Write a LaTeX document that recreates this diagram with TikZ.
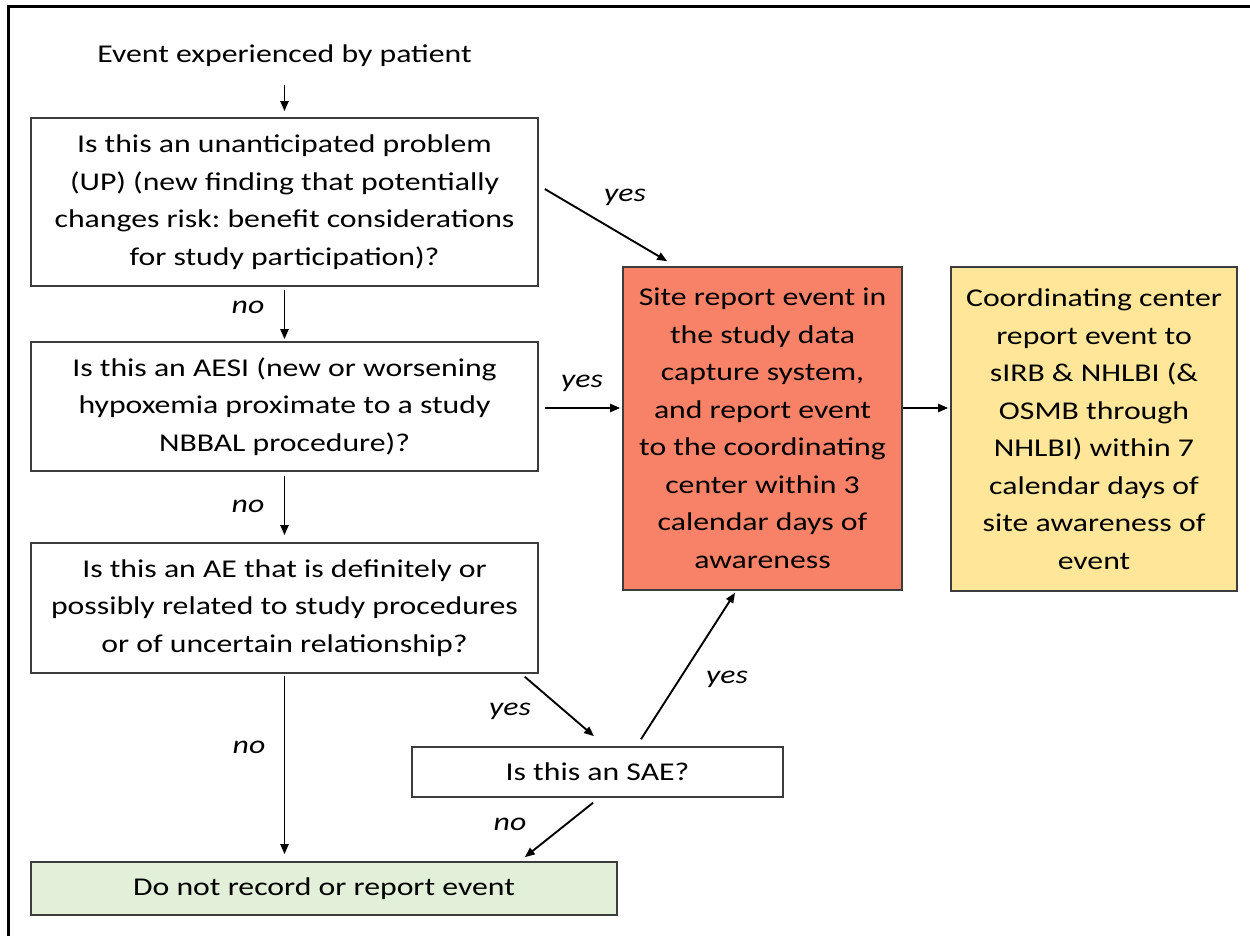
\documentclass[tikz,border=0pt]{standalone}
\usepackage{fontspec}
\setmainfont{Carlito}[FakeStretch=1.24]
\usetikzlibrary{arrows.meta, calc}
\frenchspacing

\definecolor{redbox}{RGB}{247,130,104}
\definecolor{yelbox}{RGB}{255,230,153}
\definecolor{grnbox}{RGB}{226,240,217}
\definecolor{edge}{RGB}{60,60,60}

\begin{document}
\begin{tikzpicture}[x=1pt, y=-1pt,
  txt/.style = {font=\fontsize{25.6}{37.5}\selectfont, align=center},
  q/.style = {txt, draw=edge, line width=1.6pt, inner sep=0pt},
  lbl/.style = {font=\fontsize{25.6}{37.5}\selectfont\itshape, anchor=base},
  arr/.style = {-{Triangle[length=10pt, width=8pt]}, line width=1.9pt}]
\useasboundingbox (0,0) rectangle (1250,936);
\draw[line width=3pt] (8,936) -- (8,7) -- (1250,7);

% questions on the left
\node[txt, anchor=base] (ev) at (284.5,63) {Event experienced by patient};
\node[q, minimum width=507pt, minimum height=168pt] (up) at (284.5,202)
  {Is this an unanticipated problem\\(UP) (new finding that potentially\\changes risk: benefit considerations\\for study participation)?};
\node[q, minimum width=507pt, minimum height=129pt] (aesi) at (284.5,406.5)
  {Is this an AESI (new or worsening\\hypoxemia proximate to a study\\NBBAL procedure)?};
\node[q, minimum width=507pt, minimum height=130pt] (ae) at (284.5,608)
  {Is this an AE that is definitely or\\possibly related to study procedures\\or of uncertain relationship?};
\node[q, minimum width=371pt, minimum height=50pt] (sae) at (597.5,772) {Is this an SAE?};
\node[q, fill=grnbox, minimum width=586pt, minimum height=53pt] (none) at (324,888.5)
  {Do not record or report event};

% reporting
\node[q, fill=redbox, minimum width=279pt, minimum height=323pt] (site) at (762.5,428.5)
  {Site report event in\\the study data\\capture system,\\and report event\\to the coordinating\\center within 3\\calendar days of\\awareness};
\node[q, fill=yelbox, minimum width=286pt, minimum height=324pt] (cc) at (1094,429)
  {Coordinating center\\report event to\\sIRB \& NHLBI (\&\\OSMB through\\NHLBI) within 7\\calendar days of\\site awareness of\\event};

% arrows
\draw[arr] ($(ev.base)+(0,22)$) -- ([yshift=6pt]up.north);
\draw[arr, shorten <=3pt, shorten >=2pt] (up) -- (aesi);
\draw[arr, shorten <=4pt, shorten >=7pt] (aesi) -- (ae);
\draw[arr] ([yshift=-2pt]ae.south) -- ([yshift=7pt]ae.south |- none.north);
\draw[arr] ($(up.east)+(6,-13)$) -- ($(site.north west)+(45,-5)$);
\draw[arr] ($(aesi.east)+(6,1.5)$) -- ($(aesi.east -| site.west)+(-2,1.5)$);
\draw[arr] ($(site.east)+(0,-20.5)$) -- ($(site.east -| cc.west)+(-2,-20.5)$);
\draw[arr] ($(ae.south east)+(-14,3)$) -- ($(sae.north)+(-3.5,-10)$);
\draw[arr] ($(sae.north)+(43.5,-7)$) -- ($(site.south)+(-27.5,2)$);
\draw[arr] ($(sae.south)+(-4.5,5)$) -- ($(none.north east)+(-93,-4)$);

% labels
\node[lbl] (l1) at (625,202) {yes};
\node[lbl] (l2) at (248,313) {no};
\node[lbl] (l3) at (582,387) {yes};
\node[lbl] (l4) at (248,512) {no};
\node[lbl] (l5) at (249,753) {no};
\node[lbl] (l6) at (510,715) {yes};
\node[lbl] (l7) at (727,683) {yes};
\node[lbl] (l8) at (510,830) {no};
\end{tikzpicture}
\end{document}
